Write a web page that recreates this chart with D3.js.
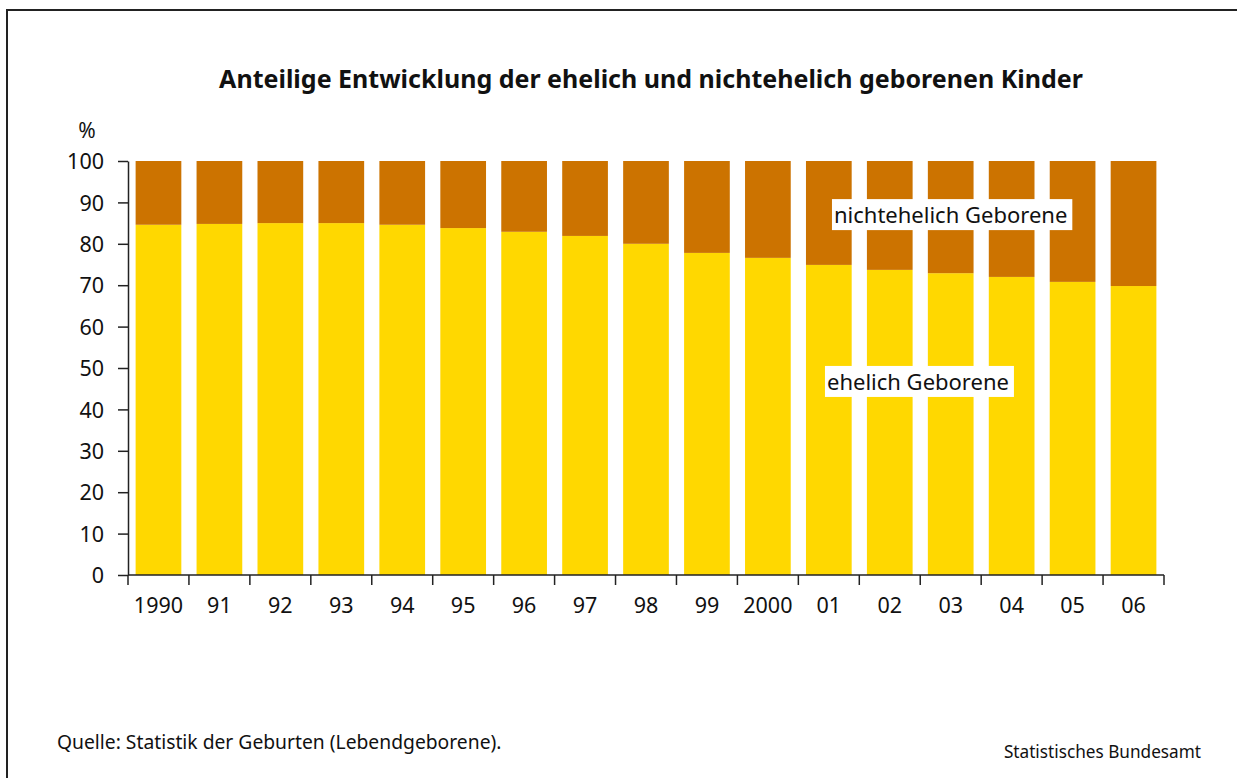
<!DOCTYPE html>
<html lang="de">

<head>
    <meta charset="UTF-8">
    <title>Ehelich und nichtehelich geborene Kinder</title>
    <style>
        body {
            margin: 0;
            background: #fff;
        }

        svg text {
            font-family: "Noto Sans", "Open Sans", sans-serif;
            fill: #111;
        }
    </style>
</head>

<body>
    <div class="canvas"></div>

    <script src="https://d3js.org/d3.v7.min.js"></script>
    <script>
        // data
        const years = ['1990', '91', '92', '93', '94', '95', '96', '97', '98', '99', '2000', '01', '02', '03', '04', '05', '06'];
        const ehelich = [84.6, 84.8, 85.0, 85.0, 84.6, 83.8, 82.9, 81.9, 80.0, 77.8, 76.6, 74.9, 73.7, 72.9, 72.0, 70.8, 69.8];
        const nichtehelich = [15.4, 15.2, 15.0, 15.0, 15.4, 16.2, 17.1, 18.1, 20.0, 22.2, 23.4, 25.1, 26.3, 27.1, 28.0, 29.2, 30.2];
        const yTicks = [0, 10, 20, 30, 40, 50, 60, 70, 80, 90, 100];
        const seriesNames = ['ehelich Geborene', 'nichtehelich Geborene'];

        const W = 1237, H = 778;
        const plot = { left: 128, right: 1164, top: 161, bottom: 575 };

        const svg = d3.select('.canvas')
            .append('svg')
            .attr('width', W)
            .attr('height', H);

        // frame (only top and left edges are inside the picture)
        svg.append('rect')
            .attr('x', 7).attr('y', 10)
            .attr('width', W + 20).attr('height', H + 20)
            .attr('fill', 'none')
            .attr('stroke', '#222')
            .attr('stroke-width', 2);

        svg.append('text')
            .attr('x', 651).attr('y', 88)
            .attr('text-anchor', 'middle')
            .attr('font-size', 25)
            .attr('font-weight', 'bold')
            .text('Anteilige Entwicklung der ehelich und nichtehelich geborenen Kinder');

        const x = d3.scaleBand()
            .domain(years)
            .range([plot.left, plot.right])
            .paddingInner(0.25)
            .paddingOuter(0.125);

        const y = d3.scaleLinear()
            .domain([0, 100])
            .range([plot.bottom, plot.top]);

        const color = d3.scaleOrdinal()
            .domain(seriesNames)
            .range(['#FFD800', '#CC7300']);

        const table = years.map((yr, i) => ({ year: yr, e: ehelich[i], n: nichtehelich[i] }));
        const stacked = d3.stack().keys(['e', 'n'])(table);

        svg.append('g')
            .selectAll('g')
            .data(stacked)
            .join('g')
            .attr('fill', (d, i) => color(seriesNames[i]))
            .selectAll('rect')
            .data(d => d)
            .join('rect')
            .attr('x', d => x(d.data.year))
            .attr('width', x.bandwidth())
            .attr('y', d => y(Math.min(d[1], 100)))
            .attr('height', d => y(d[0]) - y(Math.min(d[1], 100)));

        // y axis
        const yAxis = svg.append('g')
            .attr('transform', `translate(${plot.left},0)`)
            .call(d3.axisLeft(y).tickValues(yTicks).tickSize(10).tickSizeOuter(0).tickPadding(14));
        yAxis.selectAll('text').attr('font-size', 21.5).attr('dy', '0.36em');
        yAxis.selectAll('line, path').attr('stroke', '#222').attr('stroke-width', 1.5);

        svg.append('text')
            .attr('x', 87).attr('y', 138)
            .attr('text-anchor', 'middle')
            .attr('font-size', 21)
            .text('%');

        // x axis: ticks at band boundaries, labels centred in bands
        const step = x.step();
        const bounds = years.map(d => x(d) - step * x.paddingInner() / 2);
        bounds.push(plot.right);

        const xAxis = svg.append('g');
        xAxis.append('line')
            .attr('x1', plot.left).attr('x2', plot.right)
            .attr('y1', y(0)).attr('y2', y(0))
            .attr('stroke', '#222').attr('stroke-width', 1.5);
        xAxis.selectAll('.tick')
            .data(bounds)
            .join('line')
            .attr('x1', d => d).attr('x2', d => d)
            .attr('y1', y(0)).attr('y2', y(0) + 10)
            .attr('stroke', '#222').attr('stroke-width', 1.5);
        xAxis.selectAll('text')
            .data(years)
            .join('text')
            .attr('x', d => x(d) + x.bandwidth() / 2)
            .attr('y', y(0) + 38)
            .attr('text-anchor', 'middle')
            .attr('font-size', 21.5)
            .text(d => d);

        // series labels in white boxes
        const addLabel = (txt, lx, ly) => {
            const g = svg.append('g');
            const rect = g.append('rect').attr('fill', '#fff');
            const t = g.append('text')
                .attr('x', lx).attr('y', ly)
                .attr('font-size', 22)
                .text(txt);
            const bb = t.node().getBBox();
            rect.attr('x', bb.x - 2).attr('y', bb.y)
                .attr('width', bb.width + 7).attr('height', bb.height + 1);
        };
        addLabel(seriesNames[1], x('01') + 28, y(85));
        addLabel(seriesNames[0], x('01') + 21, y(44.7));

        svg.append('text')
            .attr('x', 57).attr('y', 749)
            .attr('font-size', 19.3)
            .text('Quelle: Statistik der Geburten (Lebendgeborene).');

        svg.append('text')
            .attr('x', 1201).attr('y', 758)
            .attr('text-anchor', 'end')
            .attr('font-size', 17.2)
            .text('Statistisches Bundesamt');
    </script>
</body>

</html>
